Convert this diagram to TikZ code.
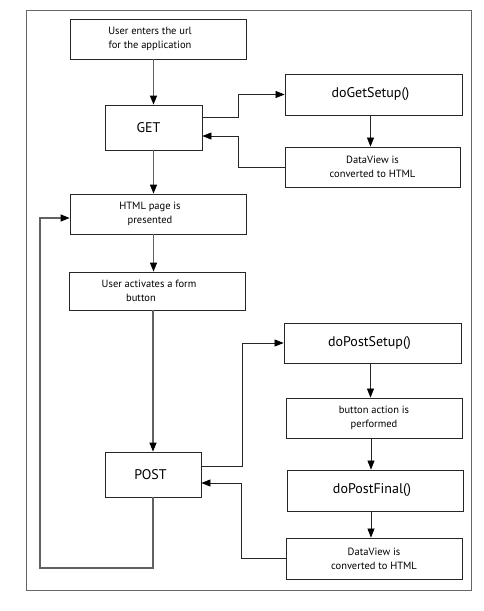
\documentclass[tikz,border=0pt]{standalone}
\usepackage{fontspec}
\setmainfont{PT Sans}
\usetikzlibrary{arrows.meta}
\newcommand\lsh[1]{#1\hspace*{16pt}}
\tikzset{
  box/.style={draw=black!85, line width=0.8pt, inner sep=0pt, align=center, font=\fontsize{10.5}{14}\selectfont},
  bigbox/.style={box, font=\fontsize{14}{16}\selectfont},
  tip/.style={-{Triangle[length=9pt,width=7pt,color=black]}},
  conn/.style={draw=black!62, line width=1.2pt, tip},
  thin/.style={draw=black!85, line width=0.7pt, tip},
}
\begin{document}
\begin{tikzpicture}[x=1pt,y=-1pt]
\useasboundingbox (0,0) rectangle (484,611);
\draw[draw=black!60, line width=0.9pt] (26,10) rectangle (471,590);
\node[box, minimum width=176pt, minimum height=40pt] (u1) at (158,39) {\lsh{User enters the url}\\\lsh{for the application}};
\node[bigbox, minimum width=97pt, minimum height=45pt] (get) at (153.5,127.5) {GET\hspace*{10pt}};
\node[bigbox, minimum width=177pt, minimum height=41pt] (dgs) at (373.5,94.5) {doGetSetup()\hspace*{6pt}};
\node[box, minimum width=175pt, minimum height=40pt] (dv1) at (372.5,167) {DataView is\\converted to HTML};
\node[box, minimum width=176pt, minimum height=40pt] (html) at (158,214) {\lsh{HTML page is}\\\lsh{presented}};
\node[box, minimum width=176pt, minimum height=38pt] (uact) at (157,291) {\lsh{User activates a form}\\\lsh{button\hspace*{16pt}}};
\node[bigbox, minimum width=177pt, minimum height=40pt] (dps) at (372.5,343) {doPostSetup()\hspace*{6pt}};
\node[box, minimum width=176pt, minimum height=40pt] (bap) at (374,418) {button action is\\performed};
\node[bigbox, minimum width=176pt, minimum height=41pt] (dpf) at (375,490.5) {doPostFinal()\hspace*{6pt}};
\node[box, minimum width=176pt, minimum height=41pt] (dv2) at (374,558.5) {DataView is\\converted to HTML};
\node[bigbox, minimum width=96pt, minimum height=45pt] (post) at (153,474.5) {POST\hspace*{5pt}};
\coordinate (lb) at (40,568);
% left column
\draw[conn] (get.north |- u1.south) -- (get.north);
\draw[conn] (get.south) -- (get.south |- html.north);
\draw[conn] (get.south |- html.south) -- (get.south |- uact.north);
\draw[conn] (post.north |- uact.south) -- (post.north);
\draw[conn] (post.south) -- (post.south |- lb) -- (lb) |- ([yshift=-4pt]html.west);
% GET loop
\draw[thin] ([yshift=10.5pt]get.east) -- ++(36,0) |- (dgs.west);
\draw[thin] ([xshift=-3pt]dgs.south) -- ([xshift=-3pt]dgs.south |- dv1.north);
\draw[thin] (dv1.west) -- ++(-46,0) |- ([yshift=-8.5pt]get.east);
% POST loop
\draw[thin] ([yshift=8.5pt]post.east) -- ++(41,0) |- (dps.west);
\draw[thin] ([xshift=-2pt]dps.south) -- ([xshift=-2pt]dps.south |- bap.north);
\draw[thin] ([xshift=-3pt]bap.south) -- ([xshift=-3pt]bap.south |- dpf.north);
\draw[thin] ([xshift=-4pt]dpf.south) -- ([xshift=-4pt]dpf.south |- dv2.north);
\draw[thin] (dv2.west) -- ++(-44,0) |- ([yshift=-8.5pt]post.east);
\end{tikzpicture}
\end{document}
